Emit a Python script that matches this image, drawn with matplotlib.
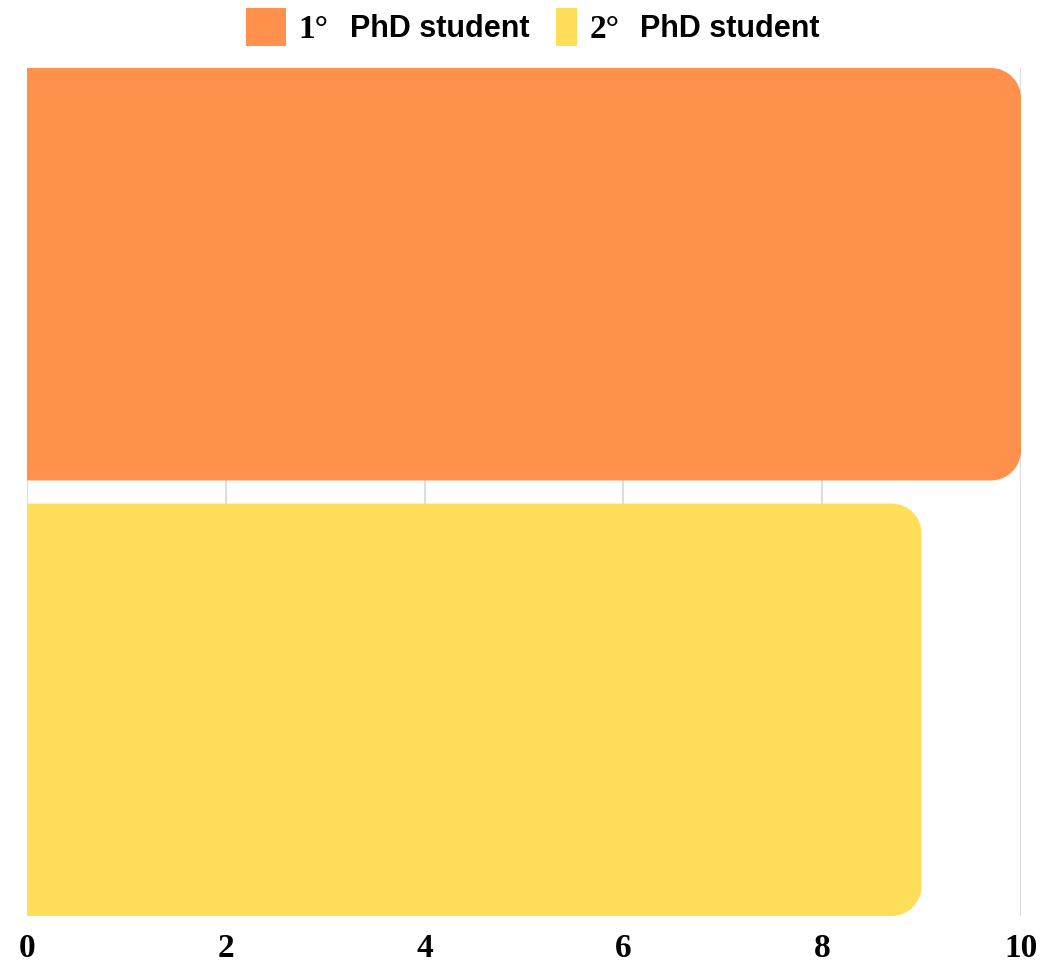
import matplotlib
matplotlib.use("Agg")
import matplotlib.pyplot as plt
from matplotlib.path import Path
from matplotlib.patches import PathPatch, Rectangle

# Data
categories = ["1° PhD student", "2° PhD student"]
values = [10, 9]
colors = ["#ff914d", "#ffde59"]
xticks = [0, 2, 4, 6, 8, 10]

W, H = 1058, 966
fig = plt.figure(figsize=(W / 100, H / 100), dpi=100)
ax = fig.add_axes([27 / W, (H - 916) / H, (1021 - 27) / W, (916 - 68) / H])
bar_h = 0.947
ax.set_xlim(0, 10)
ax.set_ylim(1 + bar_h / 2, -bar_h / 2)

bars = ax.barh(range(len(values)), values, height=bar_h, color=colors, zorder=2)

# Replace bars by shapes with rounded right end (in pixel space)
fig.canvas.draw()
r = 30
for b, c in zip(bars, colors):
    b.set_visible(False)
    (x0, y0), (x1, y1) = ax.transData.transform(
        [(b.get_x(), b.get_y()), (b.get_x() + b.get_width(), b.get_y() + b.get_height())])
    ylo, yhi = min(y0, y1), max(y0, y1)
    k = 0.5523 * r
    verts = [(x0, ylo), (x1 - r, ylo),
             (x1 - r + k, ylo), (x1, ylo + r - k), (x1, ylo + r),
             (x1, yhi - r),
             (x1, yhi - r + k), (x1 - r + k, yhi), (x1 - r, yhi),
             (x0, yhi), (x0, ylo)]
    codes = [Path.MOVETO, Path.LINETO,
             Path.CURVE4, Path.CURVE4, Path.CURVE4,
             Path.LINETO,
             Path.CURVE4, Path.CURVE4, Path.CURVE4,
             Path.LINETO, Path.CLOSEPOLY]
    fig.patches.append(PathPatch(Path(verts, codes), facecolor=c, edgecolor="none",
                                 transform=None, zorder=2))

ax.set_xticks(xticks)
ax.set_yticks([])
ax.grid(axis="x", color="#dddddd", linewidth=1.5, zorder=0)
for s in ax.spines.values():
    s.set_visible(False)
ax.tick_params(axis="x", length=0, pad=12)
for lab in ax.get_xticklabels():
    lab.set_fontfamily("Liberation Serif")
    lab.set_fontweight("bold")
    lab.set_fontsize(24)

# Legend drawn by hand
fig.patches.append(Rectangle((246 / W, 1 - 46 / H), 40 / W, 38 / H, transform=fig.transFigure,
                             facecolor=colors[0], edgecolor="none"))
fig.patches.append(Rectangle((556 / W, 1 - 46 / H), 21 / W, 38 / H, transform=fig.transFigure,
                             facecolor=colors[1], edgecolor="none"))
for x_num, x_txt, lab in [(298, 350, categories[0]), (590, 640, categories[1])]:
    num, rest = lab.split(" ", 1)
    fig.text(x_num / W, 1 - 29 / H, num, ha="left", va="center", fontsize=24,
             fontfamily="Liberation Serif", fontweight="bold")
    fig.text(x_txt / W, 1 - 29 / H, rest, ha="left", va="center", fontsize=22,
             fontfamily="Liberation Sans", fontweight="bold")

fig.savefig("out.png", dpi=100)
